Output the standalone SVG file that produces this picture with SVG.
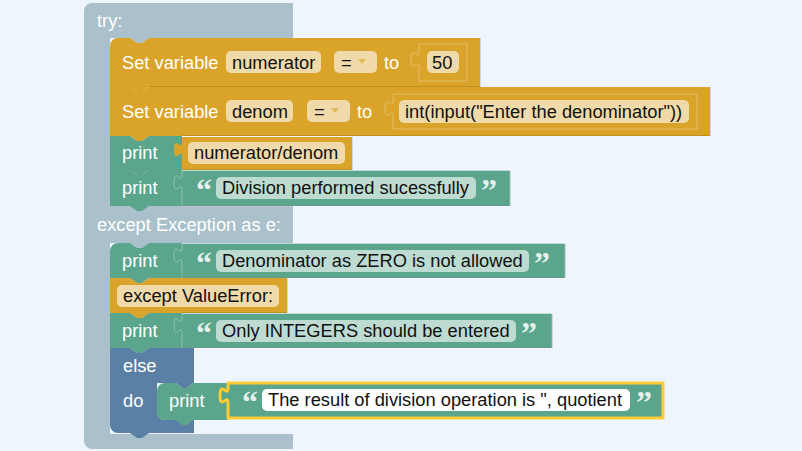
<svg xmlns="http://www.w3.org/2000/svg" width="802" height="451" viewBox="0 0 802 451">
  <style>
    .lbl { font-family: "Liberation Sans", Arial, sans-serif; font-size: 18.3px; fill: #ffffff; }
    .fld { font-family: "Liberation Sans", Arial, sans-serif; font-size: 18.3px; fill: #111111; }
    .q { font-family: "Liberation Serif", "Times New Roman", serif; font-weight: bold; font-size: 32px; fill: #ffffff; fill-opacity: 0.85; }
    .pill { fill: #ffffff; fill-opacity: 0.6; }
    .grey { fill: #aac1cb; }
    .orange { fill: #d9a429; }
    .green { fill: #5ba58c; }
    .blue { fill: #5b80a5; }
    .edge { stroke: #ffffff; stroke-opacity: 0.3; stroke-width: 1; }
    .arrow { fill: #d9a429; fill-opacity: 0.6; }
    .shade { fill: none; stroke: #000000; stroke-opacity: 0.12; stroke-width: 1; }
  </style>

  <rect width="802" height="451" fill="#eff5fc"/>

  <!-- try / except container -->
  <g id="try-block">
    <path class="grey" d="M84,11 a8,8 0 0 1 8,-8 H293 V38 H149 l-7,5 h-5 l-7,-5 H110 V206 H293 V243 H149 l-7,5 h-5 l-7,-5 H110 V434 H293 V449 H92 a8,8 0 0 1 -8,-8 Z"/>
    <text class="lbl" x="97" y="26.5">try:</text>
    <text class="lbl" x="97" y="230.5">except Exception as e:</text>
  </g>

  <!-- Set variable numerator = 50 -->
  <g id="set-numerator">
    <path class="orange" d="M110,46 a8,8 0 0 1 8,-8 H130 l7,5 h5 l7,-5 H480 V87 H149 l-7,5 h-5 l-7,-5 H110 Z"/>
    <path class="shade" d="M480.5,38 V86.5 H149"/>
    <text class="lbl" x="122" y="68.5">Set variable</text>
    <rect class="pill" x="226" y="51" width="95" height="22" rx="5"/>
    <text class="fld" x="232" y="68.5">numerator</text>
    <rect class="pill" x="334" y="51" width="43" height="22" rx="5"/>
    <text class="fld" x="341" y="68.5">=</text>
    <path class="arrow" d="M358,59 h8 l-4,5 Z"/>
    <text class="lbl" x="384" y="68.5">to</text>
    <path class="orange edge" d="M419,44 H467 V81 H419 V67 c0,-10 -8,8 -8,-7.5 s8,2.5 8,-7.5 Z"/>
    <rect class="pill" x="427" y="51" width="32" height="22" rx="5"/>
    <text class="fld" x="432" y="68.5">50</text>
  </g>

  <!-- Set variable denom = int(input(...)) -->
  <g id="set-denom">
    <path class="orange" d="M110,87 H130 l7,5 h5 l7,-5 H710 V136 H149 l-7,5 h-5 l-7,-5 H110 Z"/>
    <path class="shade" d="M710.5,87 V135.5 H182"/>
    <text class="lbl" x="122" y="117.5">Set variable</text>
    <rect class="pill" x="226" y="100" width="67" height="22" rx="5"/>
    <text class="fld" x="232" y="117.5">denom</text>
    <rect class="pill" x="307" y="100" width="43" height="22" rx="5"/>
    <text class="fld" x="314" y="117.5">=</text>
    <path class="arrow" d="M331,108 h8 l-4,5 Z"/>
    <text class="lbl" x="357" y="117.5">to</text>
    <path class="orange edge" d="M393,94 H697 V129 H393 V116 c0,-10 -8,8 -8,-7.5 s8,2.5 8,-7.5 Z"/>
    <rect class="pill" x="399" y="100" width="290" height="23" rx="5"/>
    <text class="fld" x="405" y="117.5">int(input("Enter the denominator"))</text>
  </g>

  <!-- print numerator/denom -->
  <g id="print-quotient">
    <path class="green" d="M110,136 H130 l7,5 h5 l7,-5 H182 V170 H149 l-7,5 h-5 l-7,-5 H110 Z"/>
    <text class="lbl" x="122" y="159">print</text>
    <path class="orange" d="M182,137 H352 V170 H182 V157 c0,-10 -8,8 -8,-7.5 s8,2.5 8,-7.5 Z"/>
    <path class="shade" d="M352.5,137 V169.5 H182"/>
    <rect class="pill" x="188" y="142" width="157" height="22" rx="5"/>
    <text class="fld" x="194" y="159">numerator/denom</text>
  </g>

  <!-- print "Division performed sucessfully" -->
  <g id="print-success">
    <path class="green" d="M110,170 H130 l7,5 h5 l7,-5 H182 V206 H149 l-7,5 h-5 l-7,-5 H110 Z"/>
    <text class="lbl" x="122" y="194">print</text>
    <path class="green edge" d="M182,170.5 H510 V206 H182 V190 c0,-10 -8,8 -8,-7.5 s8,2.5 8,-7.5 Z"/>
    <path class="shade" d="M510.5,171 V205.5 H182"/>
    <text class="q" x="196" y="201">“</text>
    <rect class="pill" x="216" y="177" width="260" height="22" rx="5"/>
    <text class="fld" x="222" y="194">Division performed sucessfully</text>
    <text class="q" x="481" y="201">”</text>
  </g>

  <!-- print "Denominator as ZERO is not allowed" -->
  <g id="print-zero">
    <path class="green" d="M110,251 a8,8 0 0 1 8,-8 H130 l7,5 h5 l7,-5 H182 V278 H149 l-7,5 h-5 l-7,-5 H110 Z"/>
    <text class="lbl" x="122" y="266.5">print</text>
    <path class="green edge" d="M182,243.5 H565 V278 H182 V263 c0,-10 -8,8 -8,-7.5 s8,2.5 8,-7.5 Z"/>
    <path class="shade" d="M565.5,244 V277.5 H182"/>
    <text class="q" x="196" y="273.5">“</text>
    <rect class="pill" x="216" y="250" width="313" height="22" rx="5"/>
    <text class="fld" x="222" y="267">Denominator as ZERO is not allowed</text>
    <text class="q" x="534" y="273.5">”</text>
  </g>

  <!-- except ValueError: -->
  <g id="except-valueerror">
    <path class="orange" d="M110,278 H130 l7,5 h5 l7,-5 H287 V313 H149 l-7,5 h-5 l-7,-5 H110 Z"/>
    <path class="shade" d="M287.5,278 V312.5 H182"/>
    <rect class="pill" x="117" y="285" width="162" height="22" rx="5"/>
    <text class="fld" x="123" y="302">except ValueError:</text>
  </g>

  <!-- print "Only INTEGERS should be entered" -->
  <g id="print-integers">
    <path class="green" d="M110,313 H130 l7,5 h5 l7,-5 H182 V348 H149 l-7,5 h-5 l-7,-5 H110 Z"/>
    <text class="lbl" x="122" y="336.5">print</text>
    <path class="green edge" d="M182,313.5 H552 V348 H182 V333 c0,-10 -8,8 -8,-7.5 s8,2.5 8,-7.5 Z"/>
    <path class="shade" d="M552.5,314 V347.5 H182"/>
    <text class="q" x="196" y="343.5">“</text>
    <rect class="pill" x="216" y="320" width="300" height="22" rx="5"/>
    <text class="fld" x="222" y="337">Only INTEGERS should be entered</text>
    <text class="q" x="521" y="343.5">”</text>
  </g>

  <!-- else / do -->
  <g id="else-block">
    <path class="blue" d="M110,348 H130 l7,5 h5 l7,-5 H194 V383 H193 l-6,5 h-5 l-6,-5 H157 V412 a8,8 0 0 0 8,8 H194 V433 H149 l-7,5 h-5 l-7,-5 H118 a8,8 0 0 1 -8,-8 Z"/>
    <text class="lbl" x="123" y="371.5">else</text>
    <text class="lbl" x="123" y="407">do</text>
  </g>

  <!-- print "The result of division operation is ", quotient (selected) -->
  <g id="print-result">
    <path class="green" d="M157,391 a8,8 0 0 1 8,-8 H176 l6,5 h5 l6,-5 H228 V420 H193 l-6,5 h-5 l-6,-5 H165 a8,8 0 0 1 -8,-8 Z"/>
    <text class="lbl" x="169" y="407">print</text>
    <path class="green" d="M228,383 H663 V418 H228 V403 c0,-10 -8,8 -8,-7.5 s8,2.5 8,-7.5 Z" stroke="#ffcc33" stroke-width="3" stroke-linejoin="round"/>
    <text class="q" x="242" y="413">“</text>
    <rect x="262" y="389" width="368" height="22" rx="5" fill="#ffffff"/>
    <text class="fld" x="268" y="406">The result of division operation is ", quotient</text>
    <text class="q" x="636" y="413">”</text>
  </g>
</svg>
